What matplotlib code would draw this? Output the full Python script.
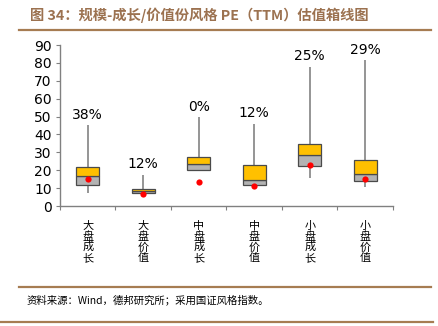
import matplotlib
matplotlib.use("Agg")
import matplotlib.pyplot as plt
import numpy as np

plt.rcParams['font.family'] = ['Noto Sans CJK SC', 'DejaVu Sans']

categories = ["大盘成长", "大盘价值", "中盘成长", "中盘价值", "小盘成长", "小盘价值"]
q1 = [12.0, 7.0, 20.0, 11.6, 22.4, 14.2]
median = [16.6, 8.3, 23.7, 14.4, 28.4, 17.7]
q3 = [21.7, 9.5, 27.6, 22.8, 34.4, 25.6]
wmin = [7.5, 6.3, 20.0, 11.6, 15.9, 10.7]
wmax = [45.2, 17.6, 49.5, 46.0, 77.8, 81.6]
current = [15.3, 6.5, 13.3, 11.0, 22.8, 15.1]
pct_labels = ["38%", "12%", "0%", "12%", "25%", "29%"]
yticks = [0, 10, 20, 30, 40, 50, 60, 70, 80, 90]

W, H = 439, 326
fig = plt.figure(figsize=(W / 100, H / 100), dpi=100)
ax = fig.add_axes([60 / W, 1 - 206 / H, 333 / W, 161 / H])

x = np.arange(len(categories))
bw = 0.41
ax.vlines(x, wmin, wmax, color="#8c8c8c", lw=1.3, zorder=1)
ax.bar(x, np.array(median) - np.array(q1), bottom=q1, width=bw,
       color="#b3b3b3", edgecolor="#4a4a4a", lw=0.9, zorder=2)
ax.bar(x, np.array(q3) - np.array(median), bottom=median, width=bw,
       color="#ffc000", edgecolor="#4a4a4a", lw=0.9, zorder=2)
ax.scatter(x, current, s=20, color="#ff0000", zorder=3, linewidths=0)

for xi, top, lab in zip(x, wmax, pct_labels):
    ax.annotate(lab, (xi, top), xytext=(0, 2.5), textcoords="offset points",
                ha="center", va="bottom", fontsize=10, family="DejaVu Sans")

ax.set_xlim(-0.5, len(categories) - 0.5)
ax.set_ylim(0, 90)
ax.set_yticks(yticks)
ax.set_yticklabels([str(v) for v in yticks], family="DejaVu Sans", fontsize=10)
ax.set_xticks(np.arange(len(categories) + 1) - 0.5)
ax.set_xticklabels([])
ax.tick_params(axis="x", length=3, color="#808080", direction="out")
ax.tick_params(axis="y", length=3, color="#808080", direction="out", pad=3)
for s in ["top", "right"]:
    ax.spines[s].set_visible(False)
for s in ["left", "bottom"]:
    ax.spines[s].set_color("#808080")
    ax.spines[s].set_linewidth(1)

for xi, cat in zip(x, categories):
    ax.annotate("\n".join(cat), (xi, 0), xytext=(0, -10.5), textcoords="offset points",
                ha="center", va="top", fontsize=8, linespacing=1.05)

brown = "#a67c52"
fig.text(30 / W, 1 - 15 / H, "图 34：规模-成长/价值份风格 PE（TTM）估值箱线图",
         ha="left", va="center", fontsize=10.3, fontweight="bold", color="#9c7250")
fig.add_artist(plt.Line2D([19 / W, 431 / W], [1 - 29.5 / H] * 2, color=brown, lw=1.6))
fig.add_artist(plt.Line2D([19 / W, 431 / W], [1 - 287 / H] * 2, color=brown, lw=1.6))
fig.add_artist(plt.Line2D([0 / W, 433 / W], [1 - 322 / H] * 2, color=brown, lw=1.6))
fig.text(27 / W, 1 - 300 / H, "资料来源：Wind，德邦研究所；采用国证风格指数。",
         ha="left", va="center", fontsize=7.5, color="#000000")

fig.savefig("out.png", dpi=100)
